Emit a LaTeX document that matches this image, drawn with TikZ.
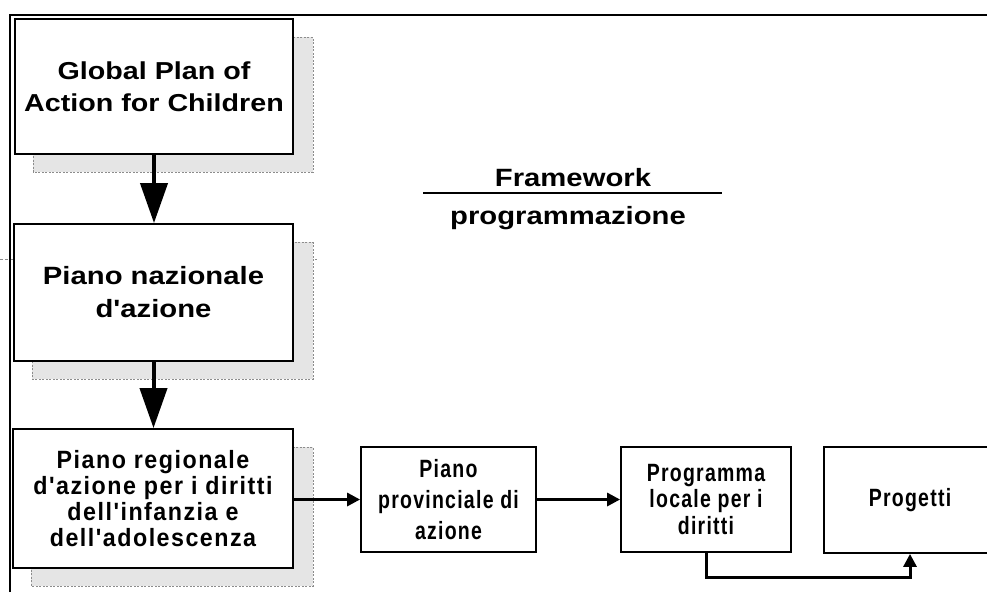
\documentclass[tikz,border=0pt]{standalone}
\usepackage{fontspec}
\setmainfont{Liberation Sans}
\newfontfamily\topfont[FakeStretch=1.17]{Liberation Sans}
\newfontfamily\botfont[FakeStretch=0.78,LetterSpace=5]{Liberation Sans}
\newfontfamily\regfont[FakeStretch=0.93,LetterSpace=6]{Liberation Sans}
\usetikzlibrary{arrows.meta,backgrounds}

\begin{document}
\begin{tikzpicture}[x=1pt,y=-1pt,
  box/.style={draw=black,line width=1.8pt,fill=white,inner sep=0pt,align=center},
  bigtext/.style={font=\topfont\bfseries\fontsize{25}{33}\selectfont},
  bigtextb/.style={font=\topfont\bfseries\fontsize{24.5}{32}\selectfont},
  regtext/.style={font=\regfont\bfseries\fontsize{25}{26}\selectfont},
  bottext/.style={font=\botfont\bfseries\fontsize{25}{31}\selectfont},
  bottextb/.style={font=\botfont\bfseries\fontsize{25}{26.5}\selectfont},
  shadowbox/.style={draw=black!45,dash pattern=on 2pt off 1.5pt,line width=0.8pt,fill=black!10},
  bigarrow/.style={line width=4pt,-{Triangle[length=40pt,width=27pt]}},
  smallarrow/.style={line width=3pt,-{Triangle[length=13pt,width=13pt]}},
  frameline/.style={line width=1.5pt,black}
]
\useasboundingbox (0,0) rectangle (987,592);
\clip (0,0) rectangle (987,592);

% outer frame
\coordinate (fa) at (10,592);
\coordinate (fb) at (10,15);
\coordinate (fc) at (987,15);
\draw[frameline] (fa) -- (fb) -- (fc);

% left column boxes
\node[box,bigtextb,minimum width=278pt,minimum height=135pt] (b1) at (154,86.5)
  {Global Plan of\\Action for Children};
\node[box,bigtext,minimum width=279pt,minimum height=137pt] (b2) at (153.5,292.5)
  {Piano nazionale\\d'azione};
\node[box,regtext,minimum width=280pt,minimum height=139pt] (b3) at (153,498.5)
  {Piano regionale\\d'azione per i diritti\\dell'infanzia e\\dell'adolescenza};

% bottom row boxes
\node[box,bottext,minimum width=175pt,minimum height=105pt] (b4) at (448.5,499.5)
  {Piano\\provinciale di\\azione};
\node[box,bottextb,minimum width=170pt,minimum height=105pt] (b5) at (706,499.5)
  {Programma\\locale per i\\diritti};
\node[box,bottext,minimum width=172pt,minimum height=106pt] (b6) at (910,500)
  {Progetti};

% shadows
\begin{scope}[on background layer]
  \coordinate (dl) at (0,259);
  \coordinate (dr) at (317,259);
  \draw[black!45,dash pattern=on 3pt off 2pt,line width=0.6pt] (dl) -- (dr);
  \foreach \n in {b1,b2,b3}
    \draw[shadowbox] ([shift={(19,19)}]\n.north west) rectangle ([shift={(19,17)}]\n.south east);
\end{scope}

% framework title
\node[bigtext] (fw) at (573,178) {Framework};
\node[bigtext] (pg) at (568,218) {programmazione};
\coordinate (ul) at (423,193);
\coordinate (ur) at (722,193);
\draw[line width=1.3pt] (ul) -- (ur);

% connectors
\draw[bigarrow] (b1.south) -- (b1.south |- b2.north);
\draw[bigarrow] (b2.south) -- (b2.south |- b3.north);
\draw[smallarrow] (b3.east |- b4.west) -- (b4.west);
\draw[smallarrow] (b4.east) -- (b5.west);
\draw[smallarrow] (b5.south) -- ++(0,25) -| (b6.south);
\end{tikzpicture}
\end{document}
